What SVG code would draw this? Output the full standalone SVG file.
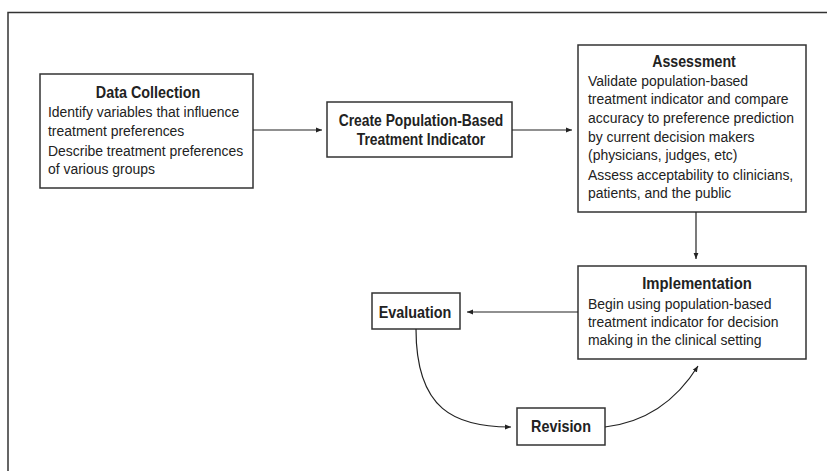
<svg xmlns="http://www.w3.org/2000/svg" width="827" height="471" viewBox="0 0 827 471">
<defs>
<style>
.box{fill:#fff;stroke:#333;stroke-width:1.5}
.frame{fill:none;stroke:#333;stroke-width:1.5}
.con{fill:none;stroke:#222;stroke-width:1.2}
text{font-family:"Liberation Sans",Arial,sans-serif;fill:#222}
.h{font-weight:bold;font-size:16.5px;text-anchor:middle}
.b{font-size:15px}
</style>
<marker id="ah" viewBox="0 0 10 10" refX="10" refY="5" markerWidth="6" markerHeight="6" markerUnits="userSpaceOnUse" orient="auto">
<path d="M0,1 L10,5 L0,9 Z" fill="#222"/>
</marker>
</defs>
<rect width="827" height="471" fill="#fff"/>
<path class="frame" d="M8,471 V12.5 H827"/>
<g id="data-collection">
<rect class="box" x="40" y="74" width="213" height="114"/>
<text class="h" transform="translate(148,98) scale(0.87,1)">Data Collection</text>
<text class="b" transform="translate(48,117) scale(0.93,1)">Identify variables that influence</text>
<text class="b" transform="translate(48,136) scale(0.93,1)">treatment preferences</text>
<text class="b" transform="translate(48,156) scale(0.93,1)">Describe treatment preferences</text>
<text class="b" transform="translate(48,174) scale(0.93,1)">of various groups</text>
</g>
<g id="create-indicator">
<rect class="box" x="327" y="102" width="185" height="55"/>
<text class="h" transform="translate(421,126) scale(0.84,1)">Create Population-Based</text>
<text class="h" transform="translate(421,145) scale(0.84,1)">Treatment Indicator</text>
</g>
<g id="assessment">
<rect class="box" x="578" y="45" width="228" height="167"/>
<text class="h" transform="translate(694,67) scale(0.86,1)">Assessment</text>
<text class="b" transform="translate(588,86) scale(0.93,1)">Validate population-based</text>
<text class="b" transform="translate(588,104) scale(0.93,1)">treatment indicator and compare</text>
<text class="b" transform="translate(588,123) scale(0.93,1)">accuracy to preference prediction</text>
<text class="b" transform="translate(588,142) scale(0.93,1)">by current decision makers</text>
<text class="b" transform="translate(588,160) scale(0.93,1)">(physicians, judges, etc)</text>
<text class="b" transform="translate(588,180) scale(0.93,1)">Assess acceptability to clinicians,</text>
<text class="b" transform="translate(588,198) scale(0.93,1)">patients, and the public</text>
</g>
<g id="implementation">
<rect class="box" x="578" y="266" width="228" height="93"/>
<text class="h" transform="translate(697,289) scale(0.9,1)">Implementation</text>
<text class="b" transform="translate(588,309) scale(0.93,1)">Begin using population-based</text>
<text class="b" transform="translate(588,327) scale(0.93,1)">treatment indicator for decision</text>
<text class="b" transform="translate(588,345) scale(0.93,1)">making in the clinical setting</text>
</g>
<g id="evaluation">
<rect class="box" x="372" y="293" width="88" height="36"/>
<text class="h" transform="translate(415,318) scale(0.87,1)">Evaluation</text>
</g>
<g id="revision">
<rect class="box" x="517" y="408" width="88" height="37"/>
<text class="h" transform="translate(561,432) scale(0.87,1)">Revision</text>
</g>
<g id="connectors">
<path class="con" d="M253,130 H322" marker-end="url(#ah)"/>
<path class="con" d="M512,130 H572" marker-end="url(#ah)"/>
<path class="con" d="M696,212 V259" marker-end="url(#ah)"/>
<path class="con" d="M578,312 H467" marker-end="url(#ah)"/>
<path class="con" d="M416,329 C416,410 455,427 511,427" marker-end="url(#ah)"/>
<path class="con" d="M605,427 C648,422 678,398 698,366" marker-end="url(#ah)"/>
</g>
</svg>
